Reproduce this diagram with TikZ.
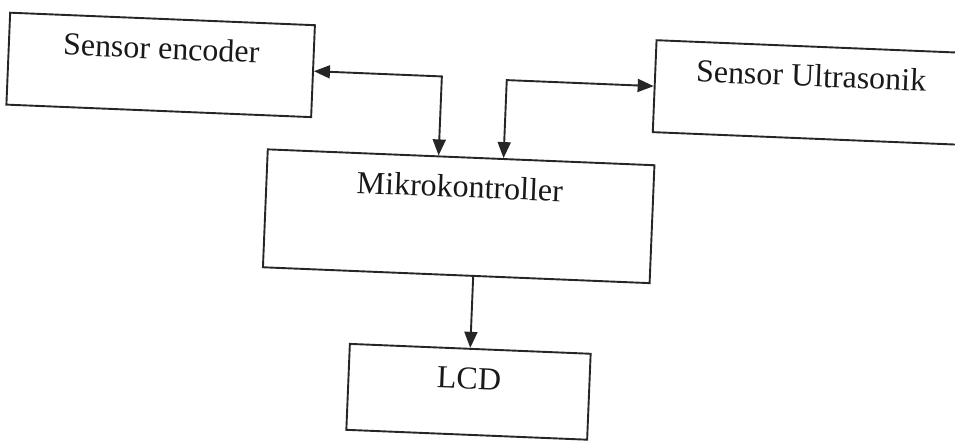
\documentclass[tikz,border=0pt]{standalone}
\usepackage{fontspec}
\setmainfont{Liberation Serif}
\usetikzlibrary{arrows.meta}
\begin{document}
\begin{tikzpicture}[x=1pt,y=-1pt,
  blk/.style={draw=black!85, line width=1.9pt, inner xsep=0pt, inner ysep=0pt,
    text height=40pt, font=\fontsize{32}{38}\selectfont, text=black!90},
  tip/.style={Triangle[length=16pt,width=13pt]},
  arr/.style={draw=black!85, line width=1.9pt, -{Triangle[length=16pt,width=13pt]}},
  darr/.style={draw=black!85, line width=1.9pt, {Triangle[length=16pt,width=13pt]}-{Triangle[length=16pt,width=13pt]}}]
\useasboundingbox (0,0) rectangle (955,442);
\clip (0,0) rectangle (955,442);
\fill[white] (0,0) rectangle (955,442);
\begin{scope}[rotate around={-2.35:(477,221)}, transform shape]
  \node[blk, minimum width=305pt, text depth=52pt] (enc) at (154.5,78) {Sensor encoder};
  \node[blk, minimum width=312pt, text depth=52pt] (us) at (805,79) {Sensor Ultrasonik};
  \node[blk, minimum width=387pt, text depth=78pt] (mk) at (458.5,217) {Mikrokontroller};
  \node[blk, minimum width=241pt, text depth=46pt] (lcd) at (475.5,392) {LCD};
  \coordinate (c1) at (436,0);
  \coordinate (c2) at (501,0);
  \draw[darr] (enc.east) -| (c1 |- mk.north);
  \draw[darr] (us.west) -| (c2 |- mk.north);
  \draw[arr] (lcd.north |- mk.south) -- (lcd.north);
\end{scope}
\end{tikzpicture}
\end{document}
